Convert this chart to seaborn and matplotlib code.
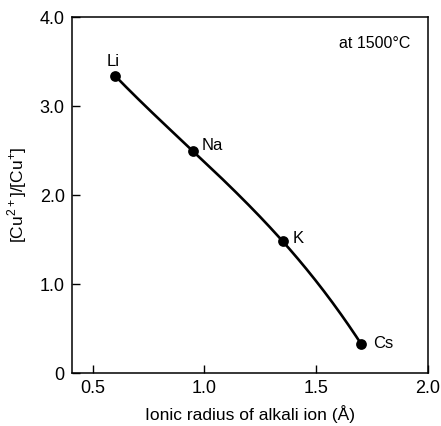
import numpy as np
import pandas as pd
import matplotlib
matplotlib.use("Agg")
import matplotlib.pyplot as plt
import seaborn as sns

ions = ["Li", "Na", "K", "Cs"]
radius = [0.60, 0.95, 1.35, 1.70]
ratio = [3.34, 2.49, 1.48, 0.33]

x_ticks = [0.5, 1.0, 1.5, 2.0]
x_tick_labels = ["0.5", "1.0", "1.5", "2.0"]
y_ticks = [0, 1, 2, 3, 4]
y_tick_labels = ["0", "1.0", "2.0", "3.0", "4.0"]

sns.set_style("ticks")
plt.rcParams["font.family"] = ["Liberation Sans", "DejaVu Sans"]
plt.rcParams["mathtext.fontset"] = "custom"
plt.rcParams["mathtext.rm"] = "Liberation Sans"
plt.rcParams["text.color"] = "black"
plt.rcParams["axes.labelcolor"] = "black"
plt.rcParams["xtick.color"] = "black"
plt.rcParams["ytick.color"] = "black"

df = pd.DataFrame({"radius": radius, "ratio": ratio, "ion": ions})

# smooth curve through the measured points (cubic through 4 points)
coef = np.polyfit(radius, ratio, 3)
xs = np.linspace(min(radius), max(radius), 200)
curve = pd.DataFrame({"radius": xs, "ratio": np.polyval(coef, xs)})

fig = plt.figure(figsize=(4.41, 4.26), dpi=100)
ax = fig.add_axes([0.1626, 0.1244, 0.8079, 0.8356])

sns.lineplot(data=curve, x="radius", y="ratio", ax=ax, color="black", linewidth=1.9)
sns.scatterplot(data=df, x="radius", y="ratio", ax=ax, color="black", s=60,
                edgecolor="black", linewidth=0, zorder=5)

offsets = {"Li": (-6, 10), "Na": (6, 4), "K": (7, 2), "Cs": (9, 0)}
for ion, xv, yv in zip(ions, radius, ratio):
    dx, dy = offsets[ion]
    ax.annotate(ion, (xv, yv), xytext=(dx, dy), textcoords="offset points",
                fontsize=12, ha="left", va="center", color="black")

ax.text(0.95, 0.925, "at 1500\u00b0C", transform=ax.transAxes, ha="right",
        va="center", fontsize=11.5, color="black")

ax.set_xlim(0.406, 2.0)
ax.set_ylim(0, 4.0)
ax.set_xticks(x_ticks)
ax.set_xticklabels(x_tick_labels)
ax.set_yticks(y_ticks)
ax.set_yticklabels(y_tick_labels)
ax.tick_params(direction="in", length=6, width=1, labelsize=13, pad=5,
               colors="black")
ax.set_xlabel("Ionic radius of alkali ion (\u00c5)", fontsize=12.5, labelpad=6)
ax.set_ylabel("[Cu$^{2+}$]/[Cu$^{+}$]", fontsize=12.5, labelpad=8)
for sp in ax.spines.values():
    sp.set_visible(True)
    sp.set_linewidth(1.1)
    sp.set_color("black")

fig.savefig("out.png", dpi=100)
